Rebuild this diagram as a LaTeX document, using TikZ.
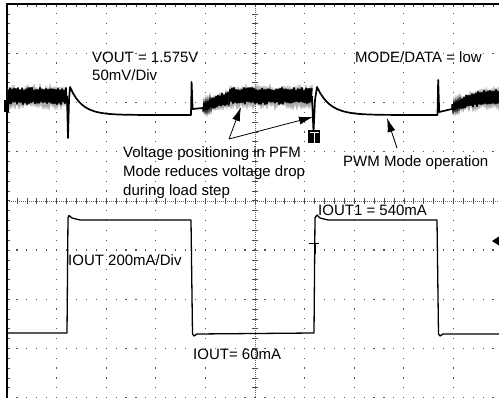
\documentclass[tikz,border=0pt]{standalone}
\usepackage{fontspec}
\setmainfont{Liberation Sans}
\usetikzlibrary{arrows.meta,positioning}

\tikzset{
	lbl/.style={anchor=west,inner sep=0pt,font=\fontsize{15}{19}\selectfont},
	ptr/.style={line width=0.8pt,-{Latex[length=14pt,width=8pt]}},
	vtrace/.style={line width=1.7pt,line join=round},
	itrace/.style={line width=1.3pt,line join=round},
	griddot/.style={fill=black!65},
	gridtick/.style={black!70,line width=0.6pt},
}

% PFM ripple band, steady
\newcommand\pfmband[2]{%
	\draw[black!50,line width=0.8pt] (#1,97) \foreach \x in {#1,...,#2} { -- (\x,{97+(2*mod(\x,2)-1)*(8+5*rnd)}) };
	\draw[black,line width=1.4pt] (#1,96) \foreach \x in {#1,...,#2} { -- (\x,{96+(2*mod(\x,2)-1)*(6+3*rnd)}) };
}
% PFM ripple band, coming back after the load step
\newcommand\pfmrise[2]{%
	\draw[black!50,line width=0.8pt] (#1,108) \foreach \x in {#1,...,#2} { -- (\x,{97+12*exp(-(\x-#1)/18)+(2*mod(\x,2)-1)*(8+5*rnd)*(1-0.5*exp(-(\x-#1)/18))}) };
	\draw[black,line width=1.4pt] (#1,108) \foreach \x in {#1,...,#2} { -- (\x,{96+12*exp(-(\x-#1)/18)+(2*mod(\x,2)-1)*(6+3*rnd)*(1-0.5*exp(-(\x-#1)/18))}) };
}

\begin{document}
\begin{tikzpicture}[x=1pt,y=-1pt]
	\useasboundingbox (0,0) rectangle (499,398);
	\pgfmathsetseed{42}

	% scope graticule
	\foreach \i in {1,2,3,4,6,7,8,9,10}
		\foreach \k in {1,...,39}
			\fill[griddot] ({7+49.6*\i-0.6},{4+9.84*\k-0.6}) rectangle ++(1.2,1.2);
	\foreach \j in {1,2,3,5,6,7,8}
		\foreach \k in {1,...,49}
			\fill[griddot] ({7+9.92*\k-0.6},{4+49.2*\j-0.6}) rectangle ++(1.2,1.2);
	\draw[black!60,dash pattern=on 0.8pt off 1.2pt]
		(255,4) -- (255,398)
		(7,200.8) -- (499,200.8);
	\foreach \k in {1,...,39}
		\draw[gridtick] (252,{4+9.84*\k}) -- (258,{4+9.84*\k})
			(7,{4+9.84*\k}) -- (10,{4+9.84*\k});
	\foreach \k in {1,...,49}
		\draw[gridtick] ({7+9.92*\k},197.8) -- ({7+9.92*\k},203.8)
			({7+9.92*\k},4) -- ({7+9.92*\k},7);
	\draw[line width=1.5pt] (7,398) -- (7,4) -- (499,4);

	% channel 1: VOUT
	\pfmband{8}{67}
	\pfmrise{203}{229}
	\pfmband{229}{312}
	\pfmrise{452}{499}
	\draw[vtrace]
		(67,96) -- (68,138) -- (69,100) -- (70,87)
		-- plot[domain=70:190,samples=40] (\x,{115-28*exp(-(\x-70)/12)})
		-- (191,115) -- (191.6,82) -- (192.6,109) -- (203,108);
	\draw[vtrace]
		(312,96) -- (313.5,132) -- (315,100) -- (317,87)
		-- plot[domain=317:437,samples=40] (\x,{115-28*exp(-(\x-317)/13)})
		-- (437.5,115) -- (438.2,80) -- (439.2,112) -- (452,109);

	% channel 2: IOUT
	\draw[itrace]
		(7,333) -- (67,333) -- (68,218) -- (69,215.5) -- (72,218) -- (80,220)
		-- (191,220) -- (192.5,334) -- (194,336) -- (197,334)
		-- (314,333) -- (315,218) -- (317,215) -- (320,218) -- (328,220)
		-- (437,220) -- (438.5,334) -- (440,336) -- (443,334) -- (499,334);

	% markers
	\fill (4,100) rectangle (8.5,112);
	\fill (308,130) rectangle (320,143);
	\draw[white,line width=1pt] (309.5,133) -- (318.5,133) (314,133) -- (314,143);
	\draw[line width=0.9pt] (309,243) -- (319,243);
	\draw[line width=2pt] (314.6,243) -- (314.6,254);
	\fill (499,236.5) -- (492,241) -- (499,245.5) -- cycle;

	% labels
	\node[lbl] (vout) at (92,57) {VOUT = 1.575V};
	\node[lbl] (vdiv) at (92,75) {50mV/Div};
	\node[lbl] (mode) at (355,57) {MODE/DATA = low};
	\node[lbl,anchor=north west,align=left] (vpos) at (123,146)
		{Voltage positioning in PFM\\Mode reduces voltage drop\\during load step};
	\node[lbl] (pwm) at (343,163) {PWM Mode operation};
	\node[lbl] (idiv) at (68,260) {IOUT 200mA/Div};
	\node[lbl] (ihi) at (318,210) {IOUT1 = 540mA};
	\node[lbl] (ilo) at (193,354) {IOUT= 60mA};

	% pointers
	\coordinate (vfork) at (229,139);
	\coordinate (pfmA) at (241,107);
	\coordinate (pfmB) at (313,117);
	\coordinate (pwmtail) at (397,148);
	\coordinate (pwmtip) at (387,118);
	\draw[ptr] (vfork) -- (pfmA);
	\draw[ptr] (vfork) -- (pfmB);
	\draw[ptr] (pwmtail) -- (pwmtip);
\end{tikzpicture}
\end{document}
